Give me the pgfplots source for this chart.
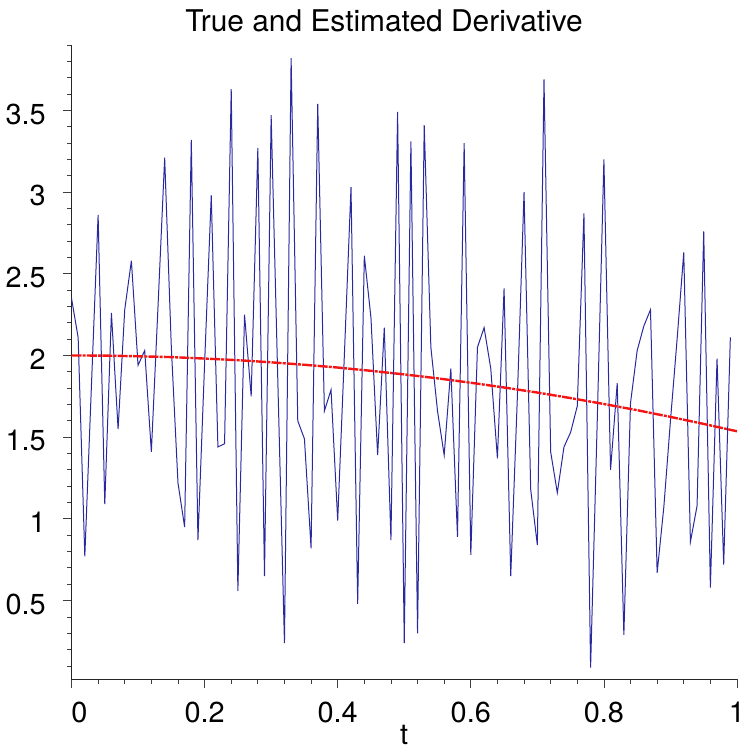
\documentclass[border=0pt]{standalone}
\usepackage{fontspec}
\setmainfont{TeX Gyre Heros}
\usepackage{pgfplots}
\pgfplotsset{compat=1.18}
\definecolor{navyline}{rgb}{0.16,0.16,0.62}
\definecolor{redline}{rgb}{0.96,0.08,0.08}
\begin{document}
\begin{tikzpicture}
\begin{axis}[name=ax, scale only axis, width=665.5bp, height=634bp,
  xmin=0, xmax=1, ymin=0.02, ymax=3.9,
  axis lines*=left, axis line style={black!85, line width=0.9bp},
  tick align=outside, major tick length=8.5bp, minor tick length=4.5bp,
  tick style={black!75, line width=0.8bp},
  xtick={0,0.2,0.4,0.6,0.8,1},
  xticklabels={\makebox[0pt][l]{0},0.2,0.4,0.6,0.8,1},
  minor xtick={0,0.04,...,1},
  ytick={0.5,1,1.5,2,2.5,3,3.5},
  yticklabels={0.5,1,1.5,2,2.5,3,3.5},
  minor ytick={0.1,0.2,...,3.9},
  xticklabel style={font=\fontsize{29}{34}\selectfont, anchor=base, inner sep=0pt, yshift=-35bp},
  yticklabel style={font=\fontsize{29}{34}\selectfont, anchor=base east, inner sep=0pt, xshift=-17bp, yshift=-13.7bp},
  title={True and Estimated Derivative},
  title style={at={(axis description cs:0.4696,1)}, anchor=base, inner sep=0pt, yshift=7.3bp, font=\fontsize{30}{36}\selectfont},
  xlabel={t},
  xlabel style={at={(axis description cs:0.5,0)}, anchor=base, inner sep=0pt, yshift=-65.5bp, font=\fontsize{29}{34}\selectfont},
]
\addplot[navyline, line width=1bp, no markers] coordinates {
(0.00,2.35) (0.01,2.11) (0.02,0.77) (0.03,1.82) (0.04,2.86) (0.05,1.09)
(0.06,2.26) (0.07,1.55) (0.08,2.28) (0.09,2.58) (0.10,1.94) (0.11,2.03)
(0.12,1.41) (0.13,2.30) (0.14,3.21) (0.15,2.05) (0.16,1.22) (0.17,0.95)
(0.18,3.32) (0.19,0.87) (0.20,1.95) (0.21,2.98) (0.22,1.44) (0.23,1.46)
(0.24,3.63) (0.25,0.56) (0.26,2.25) (0.27,1.75) (0.28,3.27) (0.29,0.65)
(0.30,3.47) (0.31,1.85) (0.32,0.24) (0.33,3.82) (0.34,1.60) (0.35,1.49)
(0.36,0.82) (0.37,3.54) (0.38,1.66) (0.39,1.79) (0.40,0.99) (0.41,2.00)
(0.42,3.03) (0.43,0.48) (0.44,2.61) (0.45,2.23) (0.46,1.39) (0.47,2.17)
(0.48,0.87) (0.49,3.49) (0.50,0.24) (0.51,3.31) (0.52,0.30) (0.53,3.41)
(0.54,2.05) (0.55,1.66) (0.56,1.39) (0.57,1.92) (0.58,0.89) (0.59,3.30)
(0.60,0.78) (0.61,2.05) (0.62,2.17) (0.63,1.92) (0.64,1.37) (0.65,2.41)
(0.66,0.65) (0.67,1.75) (0.68,3.00) (0.69,1.18) (0.70,0.84) (0.71,3.69)
(0.72,1.41) (0.73,1.16) (0.74,1.44) (0.75,1.53) (0.76,1.69) (0.77,2.87)
(0.78,0.09) (0.79,1.60) (0.80,3.20) (0.81,1.30) (0.82,1.83) (0.83,0.29)
(0.84,1.71) (0.85,2.03) (0.86,2.18) (0.87,2.28) (0.88,0.67) (0.89,1.07)
(0.90,1.60) (0.91,2.10) (0.92,2.63) (0.93,0.86) (0.94,1.08) (0.95,2.76)
(0.96,0.58) (0.97,1.98) (0.98,0.72) (0.99,2.11)
};
\addplot[redline, line width=2.4bp, no markers, dash pattern=on 10bp off 1.2bp on 3bp off 1.2bp] coordinates {
(0.00,2.000) (0.05,1.999) (0.10,1.995) (0.15,1.990) (0.20,1.981)
(0.25,1.971) (0.30,1.958) (0.35,1.943) (0.40,1.926) (0.45,1.906)
(0.50,1.884) (0.55,1.860) (0.60,1.833) (0.65,1.804) (0.70,1.773)
(0.75,1.739) (0.80,1.703) (0.85,1.665) (0.90,1.624) (0.95,1.581)
(1.00,1.536)
};
\end{axis}
\pgfresetboundingbox
\path[use as bounding box] ([xshift=-71.5bp,yshift=-72bp]ax.south west) rectangle ([xshift=8bp,yshift=45bp]ax.north east);
\end{tikzpicture}
\end{document}
